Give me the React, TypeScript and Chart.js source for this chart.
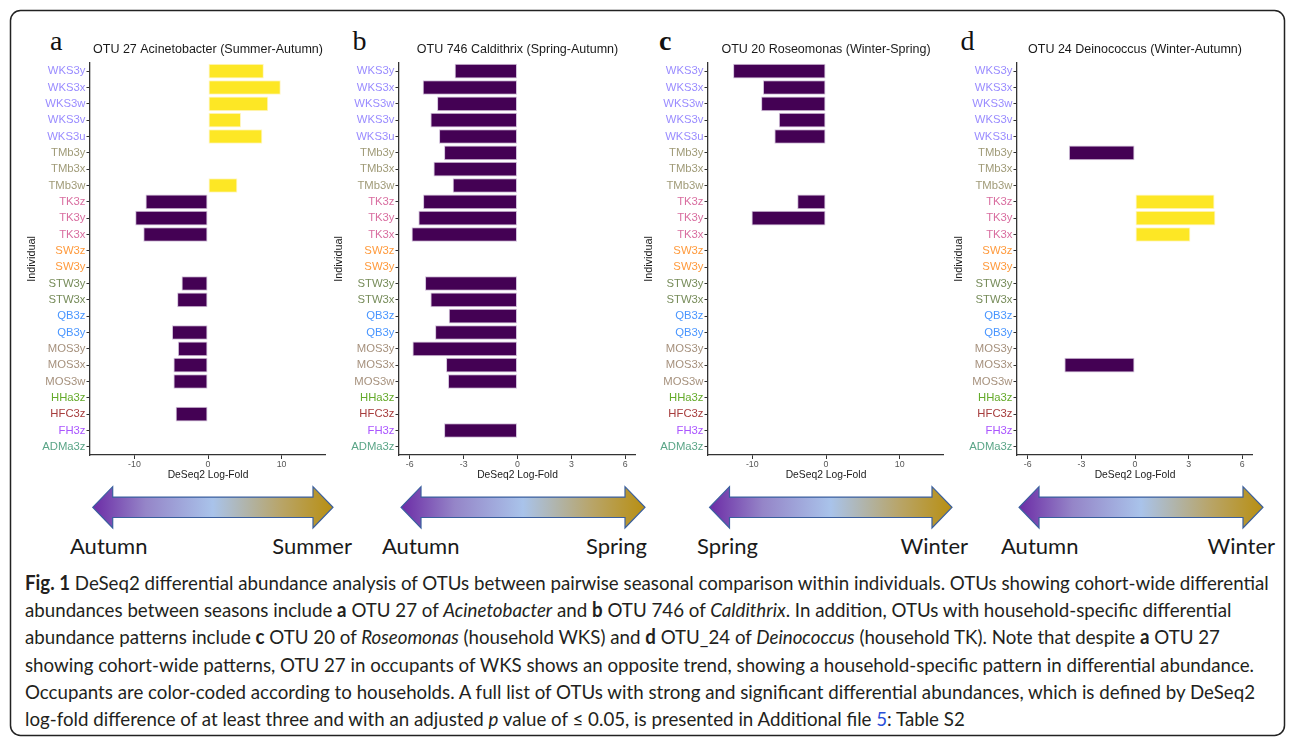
import React, { useEffect, useRef } from "react";
import { Chart, registerables } from "chart.js";

Chart.register(...registerables);

// ---------------- data ----------------
const individuals = [
  "WKS3y", "WKS3x", "WKS3w", "WKS3v", "WKS3u",
  "TMb3y", "TMb3x", "TMb3w",
  "TK3z", "TK3y", "TK3x",
  "SW3z", "SW3y",
  "STW3y", "STW3x",
  "QB3z", "QB3y",
  "MOS3y", "MOS3x", "MOS3w",
  "HHa3z", "HFC3z", "FH3z", "ADMa3z",
];

const householdColors = [
  "#9a8cff", "#9a8cff", "#9a8cff", "#9a8cff", "#9a8cff",
  "#a09b78", "#a09b78", "#a09b78",
  "#d96ea0", "#d96ea0", "#d96ea0",
  "#ff9a3c", "#ff9a3c",
  "#778c5a", "#778c5a",
  "#4a96ff", "#4a96ff",
  "#a6917d", "#a6917d", "#a6917d",
  "#64aa2a", "#a63c3c", "#aa55ff", "#5aa587",
];

const ticksWide = [-10, 0, 10];
const ticksNarrow = [-6, -3, 0, 3, 6];

const valuesA: (number | null)[] = [
  7.6, 9.9, 8.2, 4.5, 7.4,
  null, null, 4.0,
  -8.5, -9.9, -8.8,
  null, null,
  -3.6, -4.2,
  null, -4.9,
  -4.1, -4.7, -4.7,
  null, -4.4, null, null,
];

const valuesB: (number | null)[] = [
  -3.5, -5.28, -4.48, -4.85, -4.37,
  -4.09, -4.68, -3.61,
  -5.26, -5.52, -5.9,
  null, null,
  -5.15, -4.85,
  -3.83, -4.59,
  -5.85, -3.98, -3.87,
  null, null, -4.09, null,
];

const valuesC: (number | null)[] = [
  -12.6, -8.55, -8.8, -6.4, -7.0,
  null, null, null,
  -3.9, -10.1, null,
  null, null,
  null, null,
  null, null,
  null, null, null,
  null, null, null, null,
];

const valuesD: (number | null)[] = [
  null, null, null, null, null,
  -3.7, null, null,
  4.45, 4.5, 3.1,
  null, null,
  null, null,
  null, null,
  null, -3.95, null,
  null, null, null, null,
];

const panelTitles = [
  "OTU 27 Acinetobacter (Summer-Autumn)",
  "OTU 746 Caldithrix (Spring-Autumn)",
  "OTU 20 Roseomonas (Winter-Spring)",
  "OTU 24 Deinococcus (Winter-Autumn)",
];
const panelLetters = ["a", "b", "c", "d"];
const seasonLeft = ["Autumn", "Autumn", "Spring", "Autumn"];
const seasonRight = ["Summer", "Spring", "Winter", "Winter"];

// ---------------- styling / layout ----------------
const PURPLE = "#440154";
const YELLOW = "#fde725";
const SANS = "'Liberation Sans', Arial, Helvetica, sans-serif";
const CT = 30;
const CH = 462;

type Panel = {
  title: string;
  values: (number | null)[];
  lim: number;
  ticks: number[];
  left: number;
  width: number;
  yWidth: number;
};

const PANELS: Panel[] = [
  { title: panelTitles[0], values: valuesA, lim: 16.05, ticks: ticksWide, left: 20, width: 306, yWidth: 70 },
  { title: panelTitles[1], values: valuesB, lim: 6.6, ticks: ticksNarrow, left: 327, width: 309, yWidth: 72 },
  { title: panelTitles[2], values: valuesC, lim: 16, ticks: ticksWide, left: 637, width: 307, yWidth: 71 },
  { title: panelTitles[3], values: valuesD, lim: 6.6, ticks: ticksNarrow, left: 947, width: 306, yWidth: 70 },
];

const letterX = [50, 352.5, 659, 960.5];
const arrowSpans = [
  [92.7, 333],
  [401, 645],
  [709.5, 952],
  [1019, 1263],
];
const seasonLeftX = [70, 382, 697, 1001];
const seasonRightX = [352, 647, 968, 1275];

type Seg = { t: string; b?: boolean; i?: boolean; link?: boolean };
const captionLines: Seg[][] = [
  [{ t: "Fig. 1", b: true }, { t: " DeSeq2 differential abundance analysis of OTUs between pairwise seasonal comparison within individuals. OTUs showing cohort-wide differential" }],
  [{ t: "abundances between seasons include " }, { t: "a", b: true }, { t: " OTU 27 of " }, { t: "Acinetobacter", i: true }, { t: " and " }, { t: "b", b: true }, { t: " OTU 746 of " }, { t: "Caldithrix", i: true }, { t: ". In addition, OTUs with household-specific differential" }],
  [{ t: "abundance patterns include " }, { t: "c", b: true }, { t: " OTU 20 of " }, { t: "Roseomonas", i: true }, { t: " (household WKS) and " }, { t: "d", b: true }, { t: " OTU_24 of " }, { t: "Deinococcus", i: true }, { t: " (household TK). Note that despite " }, { t: "a", b: true }, { t: " OTU 27" }],
  [{ t: "showing cohort-wide patterns, OTU 27 in occupants of WKS shows an opposite trend, showing a household-specific pattern in differential abundance." }],
  [{ t: "Occupants are color-coded according to households. A full list of OTUs with strong and significant differential abundances, which is defined by DeSeq2" }],
  [{ t: "log-fold difference of at least three and with an adjusted " }, { t: "p", i: true }, { t: " value of \u2264 0.05, is presented in Additional file " }, { t: "5", link: true }, { t: ": Table S2" }],
];

const CAP_FONT = "Lato, 'Open Sans', sans-serif";
const CAP_SIZE = 20;

function measureLine(segs: Seg[]): number {
  const c = document.createElement("canvas").getContext("2d");
  if (!c) return 1;
  let w = 0;
  for (const s of segs) {
    c.font = `${s.i ? "italic " : ""}${s.b ? "bold " : ""}${CAP_SIZE}px Lato`;
    w += c.measureText(s.t).width;
  }
  return w;
}

function BarPanel({ p }: { p: Panel }) {
  const ref = useRef<HTMLCanvasElement>(null);
  useEffect(() => {
    if (!ref.current) return;
    const chart = new Chart(ref.current, {
      type: "bar",
      data: {
        labels: individuals,
        datasets: [
          {
            data: p.values as any,
            backgroundColor: p.values.map((v) => (v !== null && v > 0 ? YELLOW : PURPLE)),
            borderColor: p.values.map((v) => (v !== null && v > 0 ? "#fff6c8" : "#d3c3dc")),
            borderWidth: 1,
            borderSkipped: false,
            barPercentage: 0.9,
            categoryPercentage: 1,
          },
        ],
      },
      options: {
        indexAxis: "y",
        animation: false,
        responsive: false,
        maintainAspectRatio: false,
        devicePixelRatio: 1,
        layout: { padding: 0 },
        plugins: {
          legend: { display: false },
          tooltip: { enabled: false },
          title: {
            display: true,
            text: p.title,
            align: "center",
            fullSize: false,
            color: "#1a1a1a",
            font: { family: SANS, size: 12.5, weight: "normal" },
            padding: { top: 12.5, bottom: 5.5 },
          },
        },
        scales: {
          x: {
            type: "linear",
            min: -p.lim,
            max: p.lim,
            afterBuildTicks: (s: any) => {
              s.ticks = p.ticks.map((v) => ({ value: v }));
            },
            afterFit: (s: any) => {
              s.height = 37;
            },
            grid: { display: true, drawOnChartArea: false, drawTicks: true, tickLength: 4, color: "#333333", lineWidth: 1 },
            border: { display: true, color: "#333333", width: 1.3 },
            ticks: { color: "#555555", font: { family: SANS, size: 8.8 }, padding: 0, autoSkip: false, maxRotation: 0 },
            title: {
              display: true,
              text: "DeSeq2 Log-Fold",
              color: "#1a1a1a",
              font: { family: SANS, size: 10.3 },
              padding: { top: 0, bottom: 10.4 },
            },
          },
          y: {
            type: "category",
            offset: true,
            afterFit: (s: any) => {
              s.width = p.yWidth;
            },
            grid: { display: true, offset: false, drawOnChartArea: false, drawTicks: true, tickLength: 3.5, color: "#333333", lineWidth: 1 },
            border: { display: true, color: "#333333", width: 1.3 },
            ticks: {
              autoSkip: false,
              padding: 1,
              font: { family: SANS, size: 11.3 },
              color: (c: any) => householdColors[c.index] || "#333",
            },
            title: {
              display: true,
              text: "Individual",
              color: "#1a1a1a",
              font: { family: SANS, size: 10.8 },
              padding: { top: 5.5, bottom: 0 },
            },
          },
        },
      } as any,
    });
    return () => chart.destroy();
  }, [p]);
  return (
    <canvas
      ref={ref}
      width={p.width}
      height={CH}
      style={{ position: "absolute", left: p.left, top: CT, width: p.width, height: CH }}
    />
  );
}

function arrowPath(x0: number, x1: number, cy: number): string {
  const hl = 20;
  const hh = 20.6;
  const sh = 10.2;
  return [
    `M ${x0} ${cy}`,
    `L ${x0 + hl} ${cy - hh}`,
    `L ${x0 + hl} ${cy - sh}`,
    `L ${x1 - hl} ${cy - sh}`,
    `L ${x1 - hl} ${cy - hh}`,
    `L ${x1} ${cy}`,
    `L ${x1 - hl} ${cy + hh}`,
    `L ${x1 - hl} ${cy + sh}`,
    `L ${x0 + hl} ${cy + sh}`,
    `L ${x0 + hl} ${cy + hh}`,
    "Z",
  ].join(" ");
}

export default function App() {
  const natural = measureLine(captionLines[0]);
  const sx = natural > 0 ? 1245 / natural : 1;
  return (
    <div style={{ position: "absolute", left: 0, top: 0, width: 1295, height: 741, background: "#ffffff" }}>
      <svg
        width={1295}
        height={741}
        style={{ position: "absolute", left: 0, top: 0 }}
        xmlSpace="preserve"
      >
        <defs>
          <linearGradient id="seasonGrad" x1="0" y1="0" x2="1" y2="0">
            <stop offset="0" stopColor="#6c2ca6" />
            <stop offset="0.22" stopColor="#9585c8" />
            <stop offset="0.5" stopColor="#a9c3ea" />
            <stop offset="0.78" stopColor="#b8a56a" />
            <stop offset="1" stopColor="#b88f12" />
          </linearGradient>
        </defs>
        <rect x={10.5} y={10.5} width={1274} height={725} rx={10} ry={10} fill="#ffffff" stroke="#222222" strokeWidth={1.5} />
        {panelLetters.map((l, i) => (
          <text
            key={l}
            x={letterX[i]}
            y={50}
            fontFamily="'Liberation Serif', 'Times New Roman', serif"
            fontSize={28}
            fontWeight={l === "c" ? 700 : 400}
            fill="#111111"
          >
            {l}
          </text>
        ))}
        {arrowSpans.map(([a, b], i) => (
          <path key={i} d={arrowPath(a, b, 507.3)} fill="url(#seasonGrad)" stroke="#3a5f9e" strokeWidth={1.2} strokeLinejoin="miter" />
        ))}
        {seasonLeft.map((s, i) => (
          <text key={"l" + i} x={seasonLeftX[i]} y={554} fontFamily={CAP_FONT} fontSize={22} fill="#1a1a1a">
            {s}
          </text>
        ))}
        {seasonRight.map((s, i) => (
          <text key={"r" + i} x={seasonRightX[i]} y={554} textAnchor="end" fontFamily={CAP_FONT} fontSize={22} fill="#1a1a1a">
            {s}
          </text>
        ))}
        {captionLines.map((segs, li) => (
          <g key={li} transform={`translate(25 ${590 + li * 27.2}) scale(${sx} 1)`}>
            <text x={0} y={0} fontFamily={CAP_FONT} fontSize={CAP_SIZE} fill="#231f20" xmlSpace="preserve">
              {segs.map((s, si) => (
                <tspan
                  key={si}
                  fontWeight={s.b ? 700 : 400}
                  fontStyle={s.i ? "italic" : "normal"}
                  fill={s.link ? "#2a4fd8" : "#231f20"}
                >
                  {s.t}
                </tspan>
              ))}
            </text>
          </g>
        ))}
      </svg>
      {PANELS.map((p, i) => (
        <BarPanel key={i} p={p} />
      ))}
    </div>
  );
}
